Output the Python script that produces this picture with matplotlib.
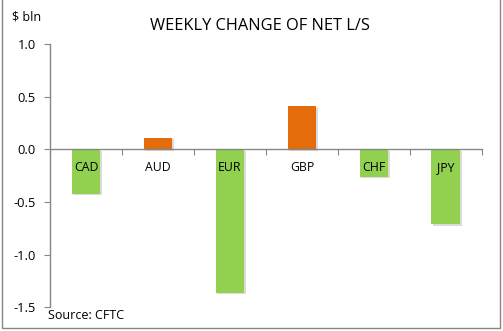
import matplotlib.pyplot as plt
import matplotlib.patheffects as pe
from matplotlib.patches import Rectangle

currencies = ["CAD", "AUD", "EUR", "GBP", "CHF", "JPY"]
weekly_change = [-0.42, 0.11, -1.36, 0.41, -0.26, -0.71]

GREEN = "#92D050"
ORANGE = "#E46C0A"
AXIS_GREY = "#868686"

plt.rcParams['font.family'] = ['Open Sans', 'DejaVu Sans']

fig = plt.figure(figsize=(5.03, 3.31), dpi=100)
ax = fig.add_axes([0.0994, 0.0716, 0.8586, 0.7955])

x = list(range(len(currencies)))
colors = [ORANGE if v > 0 else GREEN for v in weekly_change]
bars = ax.bar(x, weekly_change, width=0.4, color=colors, zorder=2)
for b in bars:
    b.set_path_effects([pe.SimplePatchShadow(offset=(1.2, -1.2), shadow_rgbFace="#999999", alpha=0.35),
                        pe.Normal()])

# category labels sit just under the zero line
for xi, name in zip(x, currencies):
    ax.annotate(name, xy=(xi, 0), xytext=(0, -12.8), textcoords="offset points",
                ha="center", va="center", fontsize=8.8, color="#000000", zorder=3)

ax.set_xlim(-0.5, len(currencies) - 0.5)
ax.set_ylim(-1.5, 1.0)
ax.set_yticks([1.0, 0.5, 0.0, -0.5, -1.0, -1.5])
ax.set_yticklabels(["1.0", "0.5", "0.0", "-0.5", "-1.0", "-1.5"], fontsize=9.3)
ax.set_xticks([i - 0.5 for i in range(len(currencies) + 1)])
ax.set_xticklabels([])

for side in ("top", "right"):
    ax.spines[side].set_visible(False)
ax.spines["bottom"].set_position(("data", 0))
for side in ("left", "bottom"):
    ax.spines[side].set_color(AXIS_GREY)
    ax.spines[side].set_linewidth(1.0)
ax.tick_params(axis="y", length=4, color=AXIS_GREY, pad=6)
ax.tick_params(axis="x", length=4, color=AXIS_GREY, direction="out")

fig.text(0.517, 0.922, "WEEKLY CHANGE OF NET L/S", ha="center", va="center", fontsize=11.8)
fig.text(0.024, 0.948, "$ bln", ha="left", va="center", fontsize=9)
fig.text(0.095, 0.048, "Source: CFTC", ha="left", va="center", fontsize=9)

# chart frame
fig.patches.append(Rectangle((0.004, 0.009), 0.99, 1.2, transform=fig.transFigure,
                             fill=False, edgecolor=AXIS_GREY, linewidth=1.0))

fig.savefig("out.png", dpi=100, facecolor="white")
